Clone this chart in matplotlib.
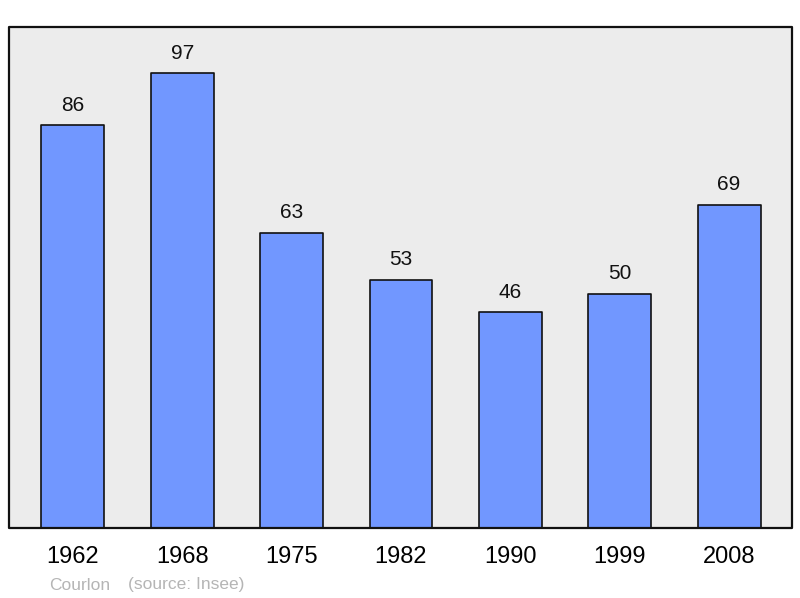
import matplotlib.pyplot as plt
from matplotlib.patches import Rectangle

years = ['1962', '1968', '1975', '1982', '1990', '1999', '2008']
population = [86, 97, 63, 53, 46, 50, 69]

plt.rcParams['font.family'] = ['Liberation Sans', 'DejaVu Sans']

fig = plt.figure(figsize=(8, 5.98), dpi=100)
ax = fig.add_axes([9 / 800, 70 / 598, 783 / 800, 501 / 598])
ax.set_facecolor('#ececec')

pos = list(range(len(years)))
bars = ax.bar(pos, population, width=0.576, color='#7197ff', edgecolor='#111111',
              linewidth=1.2, zorder=2)
for b in bars:
    b.set_joinstyle('round')

for x, v in zip(pos, population):
    ax.annotate(str(v), (x, v), xytext=(0, 7.5), textcoords='offset points',
                ha='center', va='bottom', fontsize=15, color='#111111')

ax.set_xlim(-0.585, 6.576)
ax.set_ylim(0, 106.9)
ax.set_xticks(pos)
ax.set_xticklabels(years, fontsize=17)
ax.tick_params(axis='x', length=0, pad=13)
ax.set_yticks([])
for s in ax.spines.values():
    s.set_visible(False)

frame = Rectangle((0, 0), 1, 1, transform=ax.transAxes, fill=False,
                  edgecolor='#111111', linewidth=1.6, joinstyle='round',
                  zorder=5, clip_on=False)
ax.add_patch(frame)

fig.text(49 / 800, 1 - 585 / 598, 'Courlon', fontsize=12.5, color='#b5b5b5',
         va='center', ha='left')
fig.text(128 / 800, 1 - 585 / 598, '(source: Insee)', fontsize=12.5,
         color='#b5b5b5', va='center', ha='left')

fig.savefig('out.png', dpi=100)
